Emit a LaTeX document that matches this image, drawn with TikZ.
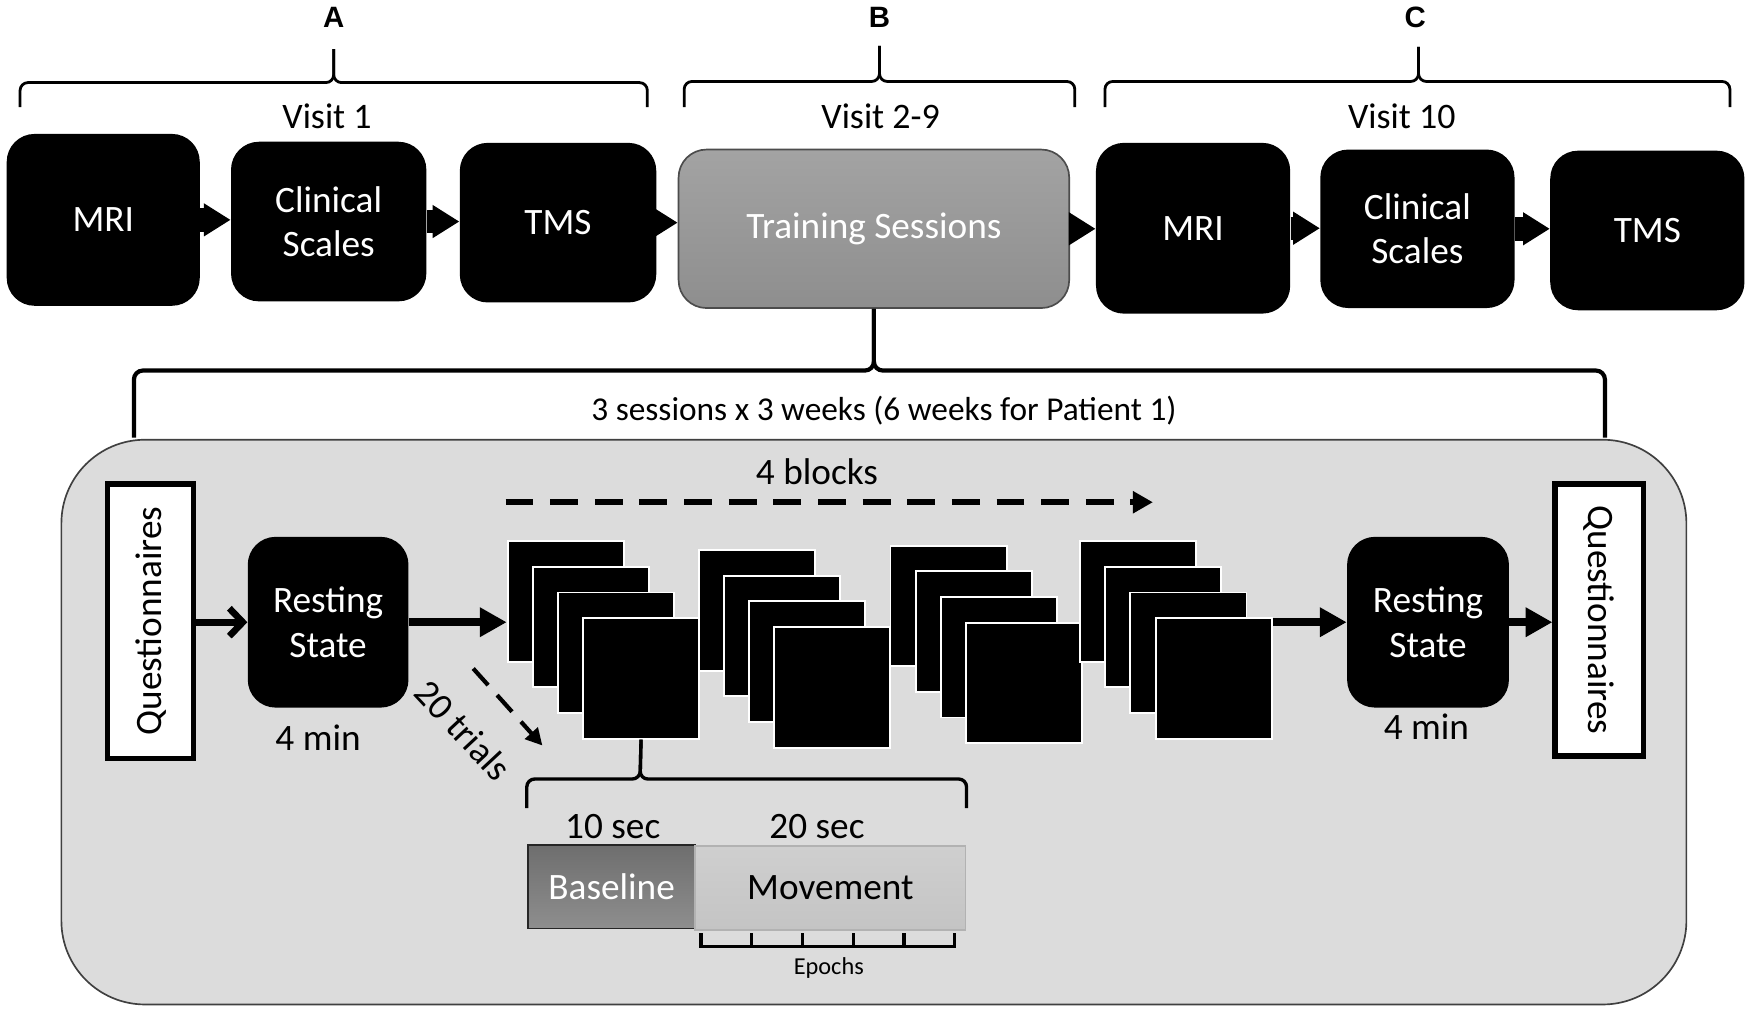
\documentclass[tikz,border=0pt]{standalone}
\usepackage{fontspec}
\usepackage{graphicx}
\setmainfont{Carlito}
\newfontfamily\abcfont{Liberation Sans}
\usetikzlibrary{arrows.meta}
\definecolor{panelgray}{HTML}{DCDCDC}
\definecolor{tstop}{HTML}{A3A3A3}
\definecolor{tsbot}{HTML}{8E8E8E}
\definecolor{basetop}{HTML}{6E6E6E}
\definecolor{basebot}{HTML}{8E8E8E}
\definecolor{movetop}{HTML}{CFCFCF}
\definecolor{movebot}{HTML}{C4C4C4}
\tikzset{
  place/.style args={#1/#2/#3/#4}{at={({(#1+#3)/2},{(#2+#4)/2})}, anchor=center,
     minimum width={(#3-#1)*0.02cm}, minimum height={(#4-#2)*0.02cm}},
  fbig/.style={font=\fontsize{19}{22.5}\selectfont},
  fvis/.style={font=\fontsize{18.3}{22}\selectfont},
  fsess/.style={font=\fontsize{17}{20}\selectfont},
  fsmall/.style={font=\fontsize{12.4}{15}\selectfont},
  fabc/.style={font=\abcfont\bfseries\fontsize{15}{18}\selectfont},
  blackbox/.style={rectangle, rounded corners=0.5cm, fill=black, text=white, inner sep=0pt, align=center, fbig},
  trainbox/.style={rectangle, rounded corners=0.5cm, top color=tstop, bottom color=tsbot, draw=black!70, line width=0.03cm, text=white, inner sep=0pt, fbig},
  panel/.style={rectangle, rounded corners=1.5cm, fill=panelgray, draw=black!75, line width=0.03cm, inner sep=0pt},
  qbox/.style={rectangle, fill=white, draw=black, line width=0.1cm, inner sep=0pt, fbig},
  trialsq/.style={rectangle, fill=black, draw=white, line width=0.035cm, minimum width=2.08cm, minimum height=2.16cm, inner sep=0pt, anchor=north west},
  basebox/.style={rectangle, inner sep=0pt, top color=basetop, bottom color=basebot, draw=black!85, line width=0.03cm, text=white, fbig},
  movebox/.style={rectangle, inner sep=0pt, top color=movetop, bottom color=movebot, draw=black!30, line width=0.03cm, text=black, fbig},
  toparr/.style={line width=0.42cm, -{Triangle[length=0.48cm,width=0.56cm]}},
  solidarr/.style={line width=0.15cm, -{Triangle[length=0.48cm,width=0.5cm]}},
  openarr/.style={line width=0.12cm, -{Straight Barb[length=0.24cm,width=0.5cm]}},
  blockarr/.style={line width=0.115cm, dash pattern=on 0.5cm off 0.3cm, -{Triangle[length=0.36cm,width=0.38cm]}},
  trialarr/.style={line width=0.075cm, dash pattern=on 0.4cm off 0.24cm, -{Triangle[length=0.3cm,width=0.3cm]}},
  thinbrace/.style={line width=0.05cm, rounded corners=0.14cm},
  thickbrace/.style={line width=0.075cm, rounded corners=0.16cm},
  midbrace/.style={line width=0.06cm, rounded corners=0.14cm},
  epochline/.style={line width=0.06cm},
}
\begin{document}
\begin{tikzpicture}[x=0.02cm,y=-0.02cm]
\useasboundingbox (0,0) rectangle (1568,906);
\fill[white] (0,0) rectangle (1568,906);

% ---------- headers ----------
\node[fabc] (la) at (299,16) {A};
\node[fabc] (lb) at (788,16) {B};
\node[fabc] (lc) at (1268,16) {C};
\draw[thinbrace] (18,96) -- (18,74) -- (299,74) -- (299,44);
\draw[thinbrace] (580,96) -- (580,74) -- (299,74) -- (299,44);
\draw[thinbrace] (613,96) -- (613,73) -- (788,73) -- (788,41);
\draw[thinbrace] (963,96) -- (963,73) -- (788,73) -- (788,41);
\draw[thinbrace] (990,96) -- (990,73) -- (1271,73) -- (1271,42);
\draw[thinbrace] (1550,96) -- (1550,73) -- (1271,73) -- (1271,42);
\node[fvis] (v1) at (293,104) {Visit 1};
\node[fvis] (v2) at (789,104) {Visit 2-9};
\node[fvis] (v3) at (1256,104) {Visit 10};

% ---------- top row ----------
\node[blackbox, place=6/120/179/274] (mri1) {MRI};
\node[blackbox, place=207/127/382/270] (cs1) {Clinical\\Scales};
\node[blackbox, place=412/128/588/271] (tms1) {TMS};
\node[trainbox, place=608/134/958/276] (ts) {Training Sessions};
\node[blackbox, place=982/128/1156/281] (mri2) {MRI};
\node[blackbox, place=1183/134/1357/276] (cs2) {Clinical\\Scales};
\node[blackbox, place=1389/135/1563/278] (tms2) {TMS};
\draw[toparr] (mri1.east) -- (mri1.east -| cs1.west);
\draw[toparr] (cs1.east) -- (cs1.east -| tms1.west);
\draw[toparr] (tms1.east) -- (tms1.east -| ts.west);
\draw[toparr] (ts.east) -- (ts.east -| mri2.west);
\draw[toparr] (mri2.east) -- (mri2.east -| cs2.west);
\draw[toparr] (cs2.east) -- (cs2.east -| tms2.west);

% ---------- panel ----------
\node[panel, place=55/394/1511/900] (pnl) {};
\draw[thickbrace] (ts.south) -- (783,332) -- (120,332) -- (120,392);
\draw[thickbrace] (ts.south) -- (783,332) -- (1438,332) -- (1438,392);
\node[fsess] (sess) at (792,368) {3 sessions x 3 weeks (6 weeks for Patient 1)};

% questionnaires and resting state
\node[qbox, place=96.5/433.5/173.5/679.5] (q1) {\rotatebox{90}{Questionnaires}};
\node[qbox, place=1393.5/433.5/1472.5/677.5] (q2) {\rotatebox{-90}{Questionnaires}};
\node[blackbox, place=222/481/366/634] (rs1) {Resting\\State};
\node[blackbox, place=1207/481/1352/634] (rs2) {Resting\\State};
\node[fbig] (m1) at (285,661) {4 min};
\node[fbig] (m2) at (1278,651) {4 min};

% trial stacks
\foreach \bx/\by [count=\b] in {454/484, 625/492, 797/488, 967/484} {
  \foreach \k in {0,1,2,3} {
    \node[trialsq] (s\b\k) at ({\bx+22.5*\k},{\by+23*\k}) {};
  }
}

% connectors
\draw[openarr] (q1.east |- rs1.west) -- (rs1.west);
\draw[solidarr] (rs1.east) -- (rs1.east -| s10.west);
\draw[solidarr] (s43.east |- rs2.west) -- (rs2.west);
\draw[solidarr] (rs2.east) -- (rs2.east -| q2.west);

% dashed arrows
\coordinate (blkS) at (453,450);
\coordinate (blkE) at (1033,450);
\draw[blockarr] (blkS) -- (blkE);
\node[fbig] (blk) at (732,423) {4 blocks};
\coordinate (trS) at (424,599);
\coordinate (trE) at (486,668);
\draw[trialarr] (trS) -- (trE);
\node[fbig, rotate=-47] (trl) at (415,654) {20 trials};

% trial brace
\draw[midbrace] (s13.south) -- (573.5,698) -- (472,698) -- (472,724);
\draw[midbrace] (s13.south) -- (573.5,698) -- (866,698) -- (866,724);
\node[fbig] (t10) at (549,741) {10 sec};
\node[fbig] (t20) at (732,741) {20 sec};
\node[basebox, place=473/757/623/832] (base) {Baseline};
\node[movebox, place=623/758/865/833] (move) {Movement};

% epochs
\draw[epochline] (628,836) -- (628,848) -- (855.5,848) -- (855.5,836);
\foreach \i in {1,...,4} {
  \draw[epochline] ({628+45.5*\i},836) -- ({628+45.5*\i},848);
}
\node[fsmall] (ep) at (742.6,867) {Epochs};
\end{tikzpicture}
\end{document}
